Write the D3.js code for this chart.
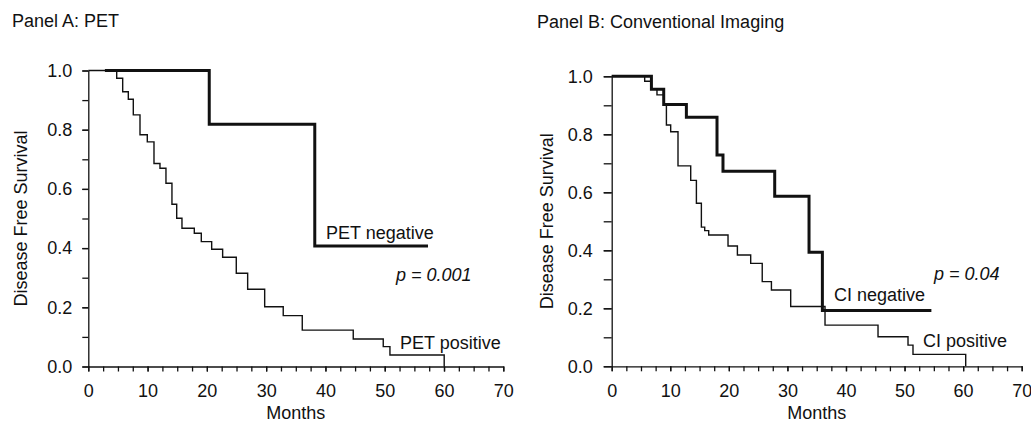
<!DOCTYPE html>
<html>
<head>
<meta charset="utf-8">
<script src="https://cdn.jsdelivr.net/npm/d3@7"></script>
<style>
  body { margin: 0; background: #fff; }
  svg text { font-family: "Liberation Sans", Arial, Helvetica, sans-serif; fill: #111; }
  .axis path, .axis line { stroke: #111; stroke-width: 1.3px; }
  .axis text { font-size: 18px; }
</style>
</head>
<body>
<svg id="chart" width="1031" height="429"></svg>
<script>
// Kaplan-Meier steps: month where survival drops, and the new survival value
const petNegMonths = [2.8, 20.4, 38.2, 57.3];
const petNegSurv   = [1.0, 0.818, 0.407, 0.407];

const petPosMonths = [0, 4.79, 5.8, 6.75, 7.59, 8.72, 9.95, 11.08, 12.09, 13.1, 14.11, 14.91,
                      15.8, 17.88, 19.06, 20.81, 22.66, 24.96, 26.88, 29.75, 32.88, 36.09,
                      44.69, 49.75, 50.88, 60.03];
const petPosSurv   = [1.0, 0.974, 0.928, 0.903, 0.85, 0.783, 0.759, 0.686, 0.67, 0.619, 0.548, 0.501,
                      0.467, 0.45, 0.422, 0.396, 0.369, 0.315, 0.261, 0.202, 0.172, 0.123,
                      0.093, 0.067, 0.039, 0.0];

const ciNegMonths = [0, 6.78, 8.88, 12.75, 17.98, 19.0, 27.83, 33.69, 35.97, 54.58];
const ciNegSurv   = [1.0, 0.955, 0.903, 0.859, 0.729, 0.673, 0.586, 0.393, 0.192, 0.192];

const ciPosMonths = [0, 5.63, 6.78, 7.73, 8.88, 9.34, 10.07, 11.32, 13.49, 14.46, 15.31, 15.88,
                     16.56, 19.86, 21.46, 23.73, 25.7, 27.27, 30.56, 36.42, 45.47, 50.59,
                     51.44, 60.44];
const ciPosSurv   = [1.0, 0.983, 0.955, 0.936, 0.903, 0.832, 0.809, 0.691, 0.641, 0.562, 0.48, 0.468,
                     0.453, 0.415, 0.384, 0.355, 0.292, 0.263, 0.206, 0.142, 0.102, 0.073,
                     0.041, 0.0];

const xTicks = [0, 10, 20, 30, 40, 50, 60, 70];
const yTicks = [0, 0.2, 0.4, 0.6, 0.8, 1.0];

const svg = d3.select('#chart');

function toPts(months, surv) {
  return months.map((m, i) => [m, surv[i]]);
}

function drawPanel(cfg) {
  const x = d3.scaleLinear().domain([0, 70]).range([cfg.x0, cfg.x1]),
        y = d3.scaleLinear().domain([0, 1]).range([cfg.y0, cfg.y1]),
        g = svg.append('g');

  g.append('text')
    .attr('x', cfg.titleX)
    .attr('y', cfg.titleY)
    .attr('font-size', '18px')
    .text(cfg.title);

  // minor ticks
  g.append('g')
    .attr('class', 'axis')
    .attr('transform', `translate(0,${cfg.y0})`)
    .call(d3.axisBottom(x).tickValues(d3.range(0, 70.1, 2.5)).tickSize(5).tickFormat(''))
    .select('.domain').remove();
  g.append('g')
    .attr('class', 'axis')
    .attr('transform', `translate(${cfg.x0},0)`)
    .call(d3.axisLeft(y).tickValues(d3.range(0, 1.01, 0.1)).tickSize(cfg.ytick).tickFormat(''))
    .select('.domain').remove();

  g.append('g')
    .attr('class', 'axis')
    .attr('transform', `translate(0,${cfg.y0})`)
    .call(d3.axisBottom(x).tickValues(xTicks).tickSize(5).tickSizeOuter(0).tickPadding(12.5));
  g.append('g')
    .attr('class', 'axis')
    .attr('transform', `translate(${cfg.x0},0)`)
    .call(d3.axisLeft(y).tickValues(yTicks).tickSize(cfg.ytick).tickSizeOuter(0)
      .tickPadding(cfg.ypad).tickFormat(d3.format('.1f')));

  g.append('text')
    .attr('transform', `translate(${cfg.ylabX},${(cfg.y0 + cfg.y1) / 2}) rotate(-90)`)
    .attr('font-size', '18px')
    .style('text-anchor', 'middle')
    .text('Disease Free Survival');

  g.append('text')
    .attr('x', (cfg.x0 + cfg.x1) / 2)
    .attr('y', 419)
    .attr('font-size', '18px')
    .style('text-anchor', 'middle')
    .text('Months');

  const line = d3.line()
    .x(d => x(d[0]))
    .y(d => y(d[1]))
    .curve(d3.curveStepAfter);

  cfg.curves.forEach(c => {
    g.append('path')
      .attr('d', line(toPts(c.months, c.surv)))
      .attr('fill', 'none')
      .attr('stroke', '#111')
      .attr('stroke-width', c.width);
  });

  cfg.labels.forEach(l => {
    g.append('text')
      .attr('x', l.x)
      .attr('y', l.y)
      .attr('font-size', '18px')
      .style('font-style', l.italic ? 'italic' : 'normal')
      .text(l.text);
  });
}

drawPanel({
  title: 'Panel A: PET', titleX: 12, titleY: 27,
  x0: 88.3, x1: 503.3, y0: 366.5, y1: 70.5, ytick: 6, ypad: 10, ylabX: 27,
  curves: [
    {months: petPosMonths, surv: petPosSurv, width: 1.4},
    {months: petNegMonths, surv: petNegSurv, width: 3}
  ],
  labels: [
    {text: 'PET negative', x: 326, y: 239},
    {text: 'p = 0.001', x: 396, y: 281, italic: true},
    {text: 'PET positive', x: 400, y: 349}
  ]
});

drawPanel({
  title: 'Panel B: Conventional Imaging', titleX: 537, titleY: 28,
  x0: 611.7, x1: 1021.7, y0: 366.3, y1: 76.3, ytick: 8, ypad: 11, ylabX: 553,
  curves: [
    {months: ciPosMonths, surv: ciPosSurv, width: 1.4},
    {months: ciNegMonths, surv: ciNegSurv, width: 3}
  ],
  labels: [
    {text: 'CI negative', x: 834, y: 301},
    {text: 'p = 0.04', x: 934, y: 280, italic: true},
    {text: 'CI positive', x: 923, y: 347}
  ]
});
</script>
</body>
</html>
